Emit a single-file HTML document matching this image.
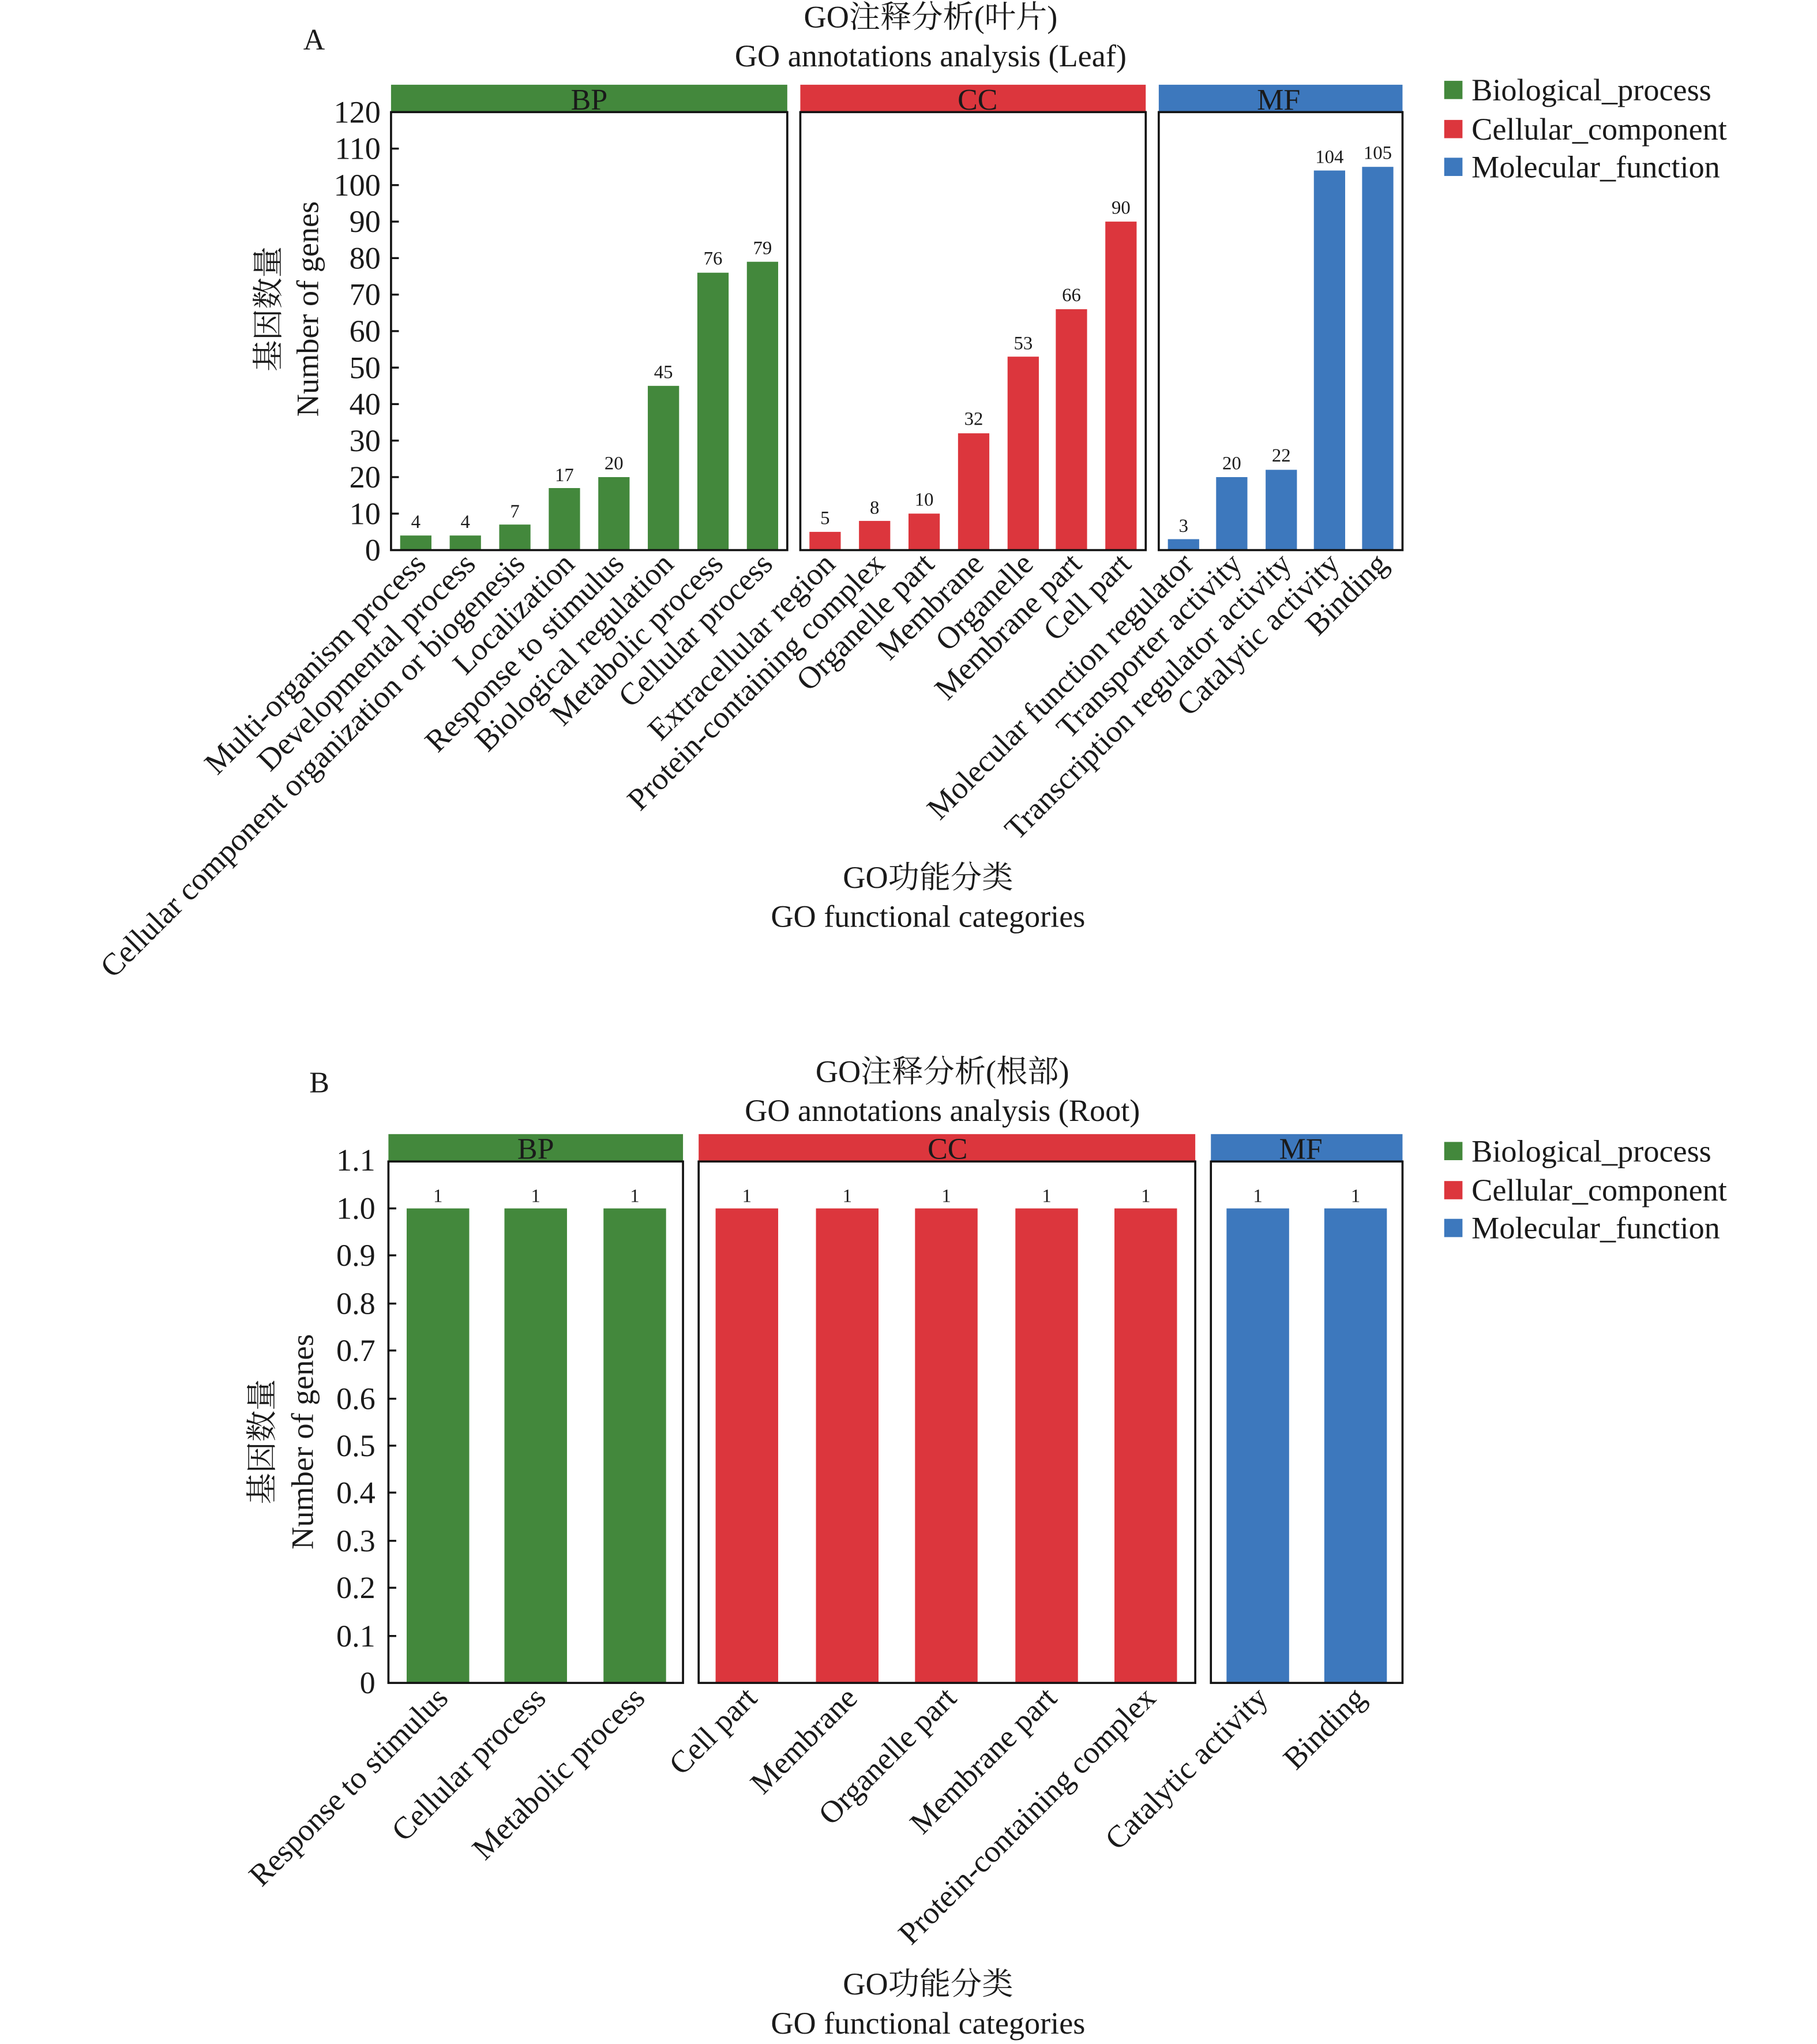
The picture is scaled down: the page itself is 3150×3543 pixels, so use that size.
<!DOCTYPE html>
<html><head><meta charset="utf-8"><style>
html,body{margin:0;padding:0;background:#fff;}
svg{display:block;}
svg text{font-family:"Liberation Serif","Noto Serif CJK SC","Noto Sans CJK SC",serif;fill:#1a1a1a;}
</style></head><body>
<svg width="3150" height="3543" viewBox="0 0 1394 1568" preserveAspectRatio="none" xmlns="http://www.w3.org/2000/svg" font-family="Liberation Serif, Noto Serif CJK SC, serif">
<!-- ===== Chart A ===== -->
<text x="241" y="38" font-size="23" text-anchor="middle">A</text>
<text x="714" y="21" font-size="24" text-anchor="middle">GO注释分析(叶片)</text>
<text x="714" y="51" font-size="24" text-anchor="middle">GO annotations analysis (Leaf)</text>
<text transform="translate(214,237) rotate(-90)" font-size="24" text-anchor="middle">基因数量</text>
<text transform="translate(244,237) rotate(-90)" font-size="24" text-anchor="middle">Number of genes</text>
<g font-size="24" text-anchor="end">
<text x="292" y="430">0</text><text x="292" y="402">10</text><text x="292" y="374">20</text><text x="292" y="346">30</text><text x="292" y="318">40</text><text x="292" y="290">50</text><text x="292" y="262">60</text><text x="292" y="234">70</text><text x="292" y="206">80</text><text x="292" y="178">90</text><text x="292" y="150">100</text><text x="292" y="122">110</text><text x="292" y="94">120</text>
</g>
<g stroke="#111" stroke-width="1.5">
<line x1="300" y1="394" x2="306" y2="394"/><line x1="300" y1="366" x2="306" y2="366"/><line x1="300" y1="338" x2="306" y2="338"/><line x1="300" y1="310" x2="306" y2="310"/><line x1="300" y1="282" x2="306" y2="282"/><line x1="300" y1="254" x2="306" y2="254"/><line x1="300" y1="226" x2="306" y2="226"/><line x1="300" y1="198" x2="306" y2="198"/><line x1="300" y1="170" x2="306" y2="170"/><line x1="300" y1="142" x2="306" y2="142"/><line x1="300" y1="114" x2="306" y2="114"/>
</g>
<rect x="300" y="65" width="304" height="21" fill="#43883c"/><text x="452" y="84" font-size="23" text-anchor="middle">BP</text>
<rect x="614" y="65" width="265" height="21" fill="#dc363d"/><text x="750" y="84" font-size="23" text-anchor="middle">CC</text>
<rect x="889" y="65" width="187" height="21" fill="#3d78bd"/><text x="981" y="84" font-size="23" text-anchor="middle">MF</text>
<g fill="#43883c">
<rect x="307" y="410.8" width="24" height="11.2"/><rect x="345" y="410.8" width="24" height="11.2"/><rect x="383" y="402.4" width="24" height="19.6"/><rect x="421" y="374.4" width="24" height="47.6"/><rect x="459" y="366" width="24" height="56"/><rect x="497" y="296" width="24" height="126"/><rect x="535" y="209.2" width="24" height="212.8"/><rect x="573" y="200.8" width="24" height="221.2"/>
</g>
<g fill="#dc363d">
<rect x="621" y="408" width="24" height="14"/><rect x="659" y="399.6" width="24" height="22.4"/><rect x="697" y="394" width="24" height="28"/><rect x="735" y="332.4" width="24" height="89.6"/><rect x="773" y="273.6" width="24" height="148.4"/><rect x="810" y="237.2" width="24" height="184.8"/><rect x="848" y="170" width="24" height="252"/>
</g>
<g fill="#3d78bd">
<rect x="896" y="413.6" width="24" height="8.4"/><rect x="933" y="366" width="24" height="56"/><rect x="971" y="360.4" width="24" height="61.6"/><rect x="1008" y="130.8" width="24" height="291.2"/><rect x="1045" y="128" width="24" height="294"/>
</g>
<g fill="none" stroke="#111" stroke-width="1.6">
<rect x="300" y="86" width="304" height="336"/><rect x="614" y="86" width="265" height="336"/><rect x="889" y="86" width="187" height="336"/>
</g>
<g font-size="14.5" text-anchor="middle">
<text x="319" y="405">4</text><text x="357" y="405">4</text><text x="395" y="397">7</text><text x="433" y="369">17</text><text x="471" y="360">20</text><text x="509" y="290">45</text><text x="547" y="203">76</text><text x="585" y="195">79</text>
<text x="633" y="402">5</text><text x="671" y="394">8</text><text x="709" y="388">10</text><text x="747" y="326">32</text><text x="785" y="268">53</text><text x="822" y="231">66</text><text x="860" y="164">90</text>
<text x="908" y="408">3</text><text x="945" y="360">20</text><text x="983" y="354">22</text><text x="1020" y="125">104</text><text x="1057" y="122">105</text>
</g>
<g font-size="24" text-anchor="end">
<text transform="translate(328,434) rotate(-45)">Multi-organism process</text>
<text transform="translate(366,434) rotate(-45)">Developmental process</text>
<text transform="translate(404,434) rotate(-45)">Cellular component organization or biogenesis</text>
<text transform="translate(442,434) rotate(-45)">Localization</text>
<text transform="translate(480,434) rotate(-45)">Response to stimulus</text>
<text transform="translate(518,434) rotate(-45)">Biological regulation</text>
<text transform="translate(556,434) rotate(-45)">Metabolic process</text>
<text transform="translate(594,434) rotate(-45)">Cellular process</text>
<text transform="translate(642,434) rotate(-45)">Extracellular region</text>
<text transform="translate(680,434) rotate(-45)">Protein-containing complex</text>
<text transform="translate(718,434) rotate(-45)">Organelle part</text>
<text transform="translate(756,434) rotate(-45)">Membrane</text>
<text transform="translate(794,434) rotate(-45)">Organelle</text>
<text transform="translate(831,434) rotate(-45)">Membrane part</text>
<text transform="translate(869,434) rotate(-45)">Cell part</text>
<text transform="translate(917,434) rotate(-45)">Molecular function regulator</text>
<text transform="translate(954,434) rotate(-45)">Transporter activity</text>
<text transform="translate(992,434) rotate(-45)">Transcription regulator activity</text>
<text transform="translate(1029,434) rotate(-45)">Catalytic activity</text>
<text transform="translate(1066,434) rotate(-45)">Binding</text>
</g>
<text x="712" y="681" font-size="24" text-anchor="middle">GO功能分类</text>
<text x="712" y="711" font-size="24" text-anchor="middle">GO functional categories</text>
<g font-size="24">
<rect x="1108" y="62" width="14" height="14" fill="#43883c"/><text x="1129" y="77">Biological_process</text>
<rect x="1108" y="92" width="14" height="14" fill="#dc363d"/><text x="1129" y="107">Cellular_component</text>
<rect x="1108" y="121" width="14" height="14" fill="#3d78bd"/><text x="1129" y="136">Molecular_function</text>
</g>

<!-- ===== Chart B ===== -->
<text x="245" y="838" font-size="23" text-anchor="middle">B</text>
<text x="723" y="830" font-size="24" text-anchor="middle">GO注释分析(根部)</text>
<text x="723" y="860" font-size="24" text-anchor="middle">GO annotations analysis (Root)</text>
<text transform="translate(209,1106) rotate(-90)" font-size="24" text-anchor="middle">基因数量</text>
<text transform="translate(240,1106) rotate(-90)" font-size="24" text-anchor="middle">Number of genes</text>
<g font-size="24" text-anchor="end">
<text x="288" y="1299">0</text><text x="288" y="1263">0.1</text><text x="288" y="1226">0.2</text><text x="288" y="1190">0.3</text><text x="288" y="1153">0.4</text><text x="288" y="1117">0.5</text><text x="288" y="1081">0.6</text><text x="288" y="1044">0.7</text><text x="288" y="1008">0.8</text><text x="288" y="971">0.9</text><text x="288" y="935">1.0</text><text x="288" y="898">1.1</text>
</g>
<g stroke="#111" stroke-width="1.5">
<line x1="298" y1="1255" x2="304" y2="1255"/><line x1="298" y1="1218" x2="304" y2="1218"/><line x1="298" y1="1182" x2="304" y2="1182"/><line x1="298" y1="1145" x2="304" y2="1145"/><line x1="298" y1="1109" x2="304" y2="1109"/><line x1="298" y1="1073" x2="304" y2="1073"/><line x1="298" y1="1036" x2="304" y2="1036"/><line x1="298" y1="1000" x2="304" y2="1000"/><line x1="298" y1="963" x2="304" y2="963"/><line x1="298" y1="927" x2="304" y2="927"/>
</g>
<rect x="298" y="870" width="226" height="21" fill="#43883c"/><text x="411" y="889" font-size="23" text-anchor="middle">BP</text>
<rect x="536" y="870" width="381" height="21" fill="#dc363d"/><text x="727" y="889" font-size="23" text-anchor="middle">CC</text>
<rect x="929" y="870" width="147" height="21" fill="#3d78bd"/><text x="998" y="889" font-size="23" text-anchor="middle">MF</text>
<g fill="#43883c">
<rect x="312" y="927" width="48" height="364"/><rect x="387" y="927" width="48" height="364"/><rect x="463" y="927" width="48" height="364"/>
</g>
<g fill="#dc363d">
<rect x="549" y="927" width="48" height="364"/><rect x="626" y="927" width="48" height="364"/><rect x="702" y="927" width="48" height="364"/><rect x="779" y="927" width="48" height="364"/><rect x="855" y="927" width="48" height="364"/>
</g>
<g fill="#3d78bd">
<rect x="941" y="927" width="48" height="364"/><rect x="1016" y="927" width="48" height="364"/>
</g>
<g fill="none" stroke="#111" stroke-width="1.6">
<rect x="298" y="891" width="226" height="400"/><rect x="536" y="891" width="381" height="400"/><rect x="929" y="891" width="147" height="400"/>
</g>
<g font-size="14.5" text-anchor="middle">
<text x="336" y="922">1</text><text x="411" y="922">1</text><text x="487" y="922">1</text><text x="573" y="922">1</text><text x="650" y="922">1</text><text x="726" y="922">1</text><text x="803" y="922">1</text><text x="879" y="922">1</text><text x="965" y="922">1</text><text x="1040" y="922">1</text>
</g>
<g font-size="24" text-anchor="end">
<text transform="translate(345,1304) rotate(-45)">Response to stimulus</text>
<text transform="translate(420,1304) rotate(-45)">Cellular process</text>
<text transform="translate(496,1304) rotate(-45)">Metabolic process</text>
<text transform="translate(582,1304) rotate(-45)">Cell part</text>
<text transform="translate(659,1304) rotate(-45)">Membrane</text>
<text transform="translate(735,1304) rotate(-45)">Organelle part</text>
<text transform="translate(812,1304) rotate(-45)">Membrane part</text>
<text transform="translate(888,1304) rotate(-45)">Protein-containing complex</text>
<text transform="translate(974,1304) rotate(-45)">Catalytic activity</text>
<text transform="translate(1049,1304) rotate(-45)">Binding</text>
</g>
<text x="712" y="1530" font-size="24" text-anchor="middle">GO功能分类</text>
<text x="712" y="1560" font-size="24" text-anchor="middle">GO functional categories</text>
<g font-size="24">
<rect x="1108" y="876" width="14" height="14" fill="#43883c"/><text x="1129" y="891">Biological_process</text>
<rect x="1108" y="906" width="14" height="14" fill="#dc363d"/><text x="1129" y="921">Cellular_component</text>
<rect x="1108" y="935" width="14" height="14" fill="#3d78bd"/><text x="1129" y="950">Molecular_function</text>
</g>
</svg>
</body></html>
